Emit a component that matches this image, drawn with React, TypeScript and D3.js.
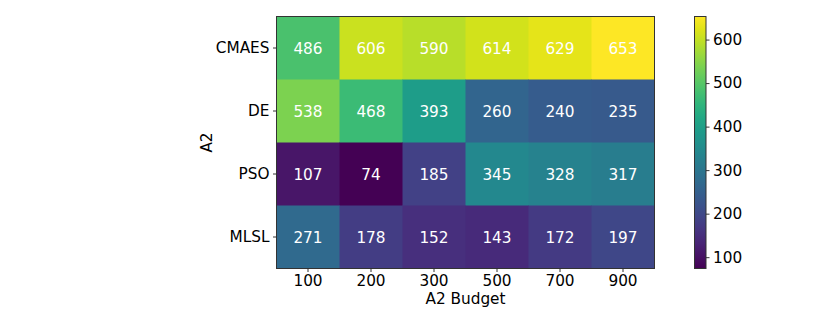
import React, { useEffect, useRef } from "react";
import * as d3 from "d3";

const algorithms = ["CMAES", "DE", "PSO", "MLSL"];
const budgets = ["100", "200", "300", "500", "700", "900"];
const cmaesValues = [486, 606, 590, 614, 629, 653];
const deValues = [538, 468, 393, 260, 240, 235];
const psoValues = [107, 74, 185, 345, 328, 317];
const mlslValues = [271, 178, 152, 143, 172, 197];
const colorbarTicks = [100, 200, 300, 400, 500, 600];

const rows = [cmaesValues, deValues, psoValues, mlslValues];

const App = () => {
  const ref = useRef<SVGSVGElement>(null);

  useEffect(() => {
    const svg = d3.select(ref.current);
    svg.selectAll("*").remove();

    const left = 276.5, top = 16.5, right = 654.5, bottom = 268.5;
    const font = "DejaVu Sans, sans-serif";
    const fs = "15.3px";

    const all = rows.flat();
    const vmin = d3.min(all) as number;
    const vmax = d3.max(all) as number;
    const color = d3.scaleSequential(d3.interpolateViridis).domain([vmin, vmax]);

    const x = d3.scaleBand().domain(budgets).range([left, right]);
    const y = d3.scaleBand().domain(algorithms).range([top, bottom]);

    const g = svg.append("g");
    rows.forEach((vals, i) => {
      vals.forEach((v, j) => {
        g.append("rect")
          .attr("x", x(budgets[j])!)
          .attr("y", y(algorithms[i])!)
          .attr("width", x.bandwidth() + 0.5)
          .attr("height", y.bandwidth() + 0.5)
          .attr("fill", color(v));
        g.append("text")
          .attr("x", x(budgets[j])! + x.bandwidth() / 2)
          .attr("y", y(algorithms[i])! + y.bandwidth() / 2)
          .attr("dy", "0.36em")
          .attr("text-anchor", "middle")
          .attr("fill", "white")
          .style("font-family", font)
          .style("font-size", fs)
          .text(v);
      });
    });

    svg.append("rect")
      .attr("x", left).attr("y", top)
      .attr("width", right - left).attr("height", bottom - top)
      .attr("fill", "none").attr("stroke", "#333").attr("stroke-width", 1);

    // x axis
    const xa = svg.append("g").attr("transform", `translate(0,${bottom})`)
      .call(d3.axisBottom(x).tickSize(3.5).tickPadding(3));
    xa.select(".domain").remove();
    xa.selectAll("text").style("font-family", font).style("font-size", fs).attr("fill", "black");
    xa.selectAll("line").attr("stroke", "#333");

    const ya = svg.append("g").attr("transform", `translate(${left},0)`)
      .call(d3.axisLeft(y).tickSize(3.5).tickPadding(3.5));
    ya.select(".domain").remove();
    ya.selectAll("text").style("font-family", font).style("font-size", fs).attr("fill", "black");
    ya.selectAll("line").attr("stroke", "#333");

    svg.append("text")
      .attr("x", (left + right) / 2).attr("y", 304)
      .attr("text-anchor", "middle")
      .style("font-family", font).style("font-size", fs)
      .text("A2 Budget");

    svg.append("text")
      .attr("transform", `translate(212,${(top + bottom) / 2}) rotate(-90)`)
      .attr("text-anchor", "middle")
      .style("font-family", font).style("font-size", fs)
      .text("A2");

    // colorbar
    const cbLeft = 694.5, cbW = 11.5;
    const cy = d3.scaleLinear().domain([vmin, vmax]).range([bottom, top]);
    const defs = svg.append("defs");
    const grad = defs.append("linearGradient").attr("id", "cbgrad")
      .attr("x1", 0).attr("y1", 1).attr("x2", 0).attr("y2", 0);
    d3.range(0, 1.0001, 0.05).forEach((t) => {
      grad.append("stop").attr("offset", t).attr("stop-color", d3.interpolateViridis(t));
    });
    svg.append("rect")
      .attr("x", cbLeft).attr("y", top)
      .attr("width", cbW).attr("height", bottom - top)
      .attr("fill", "url(#cbgrad)")
      .attr("stroke", "#333").attr("stroke-width", 1);

    const ca = svg.append("g").attr("transform", `translate(${cbLeft + cbW},0)`)
      .call(d3.axisRight(cy).tickValues(colorbarTicks).tickSize(3.5).tickPadding(3.5));
    ca.select(".domain").remove();
    ca.selectAll("text").style("font-family", font).style("font-size", fs).attr("fill", "black");
    ca.selectAll("line").attr("stroke", "#333");
  }, []);

  return (
    <svg
      ref={ref}
      width={830}
      height={323}
      style={{ position: "absolute", left: 0, top: 0, display: "block" }}
    />
  );
};

export default App;
